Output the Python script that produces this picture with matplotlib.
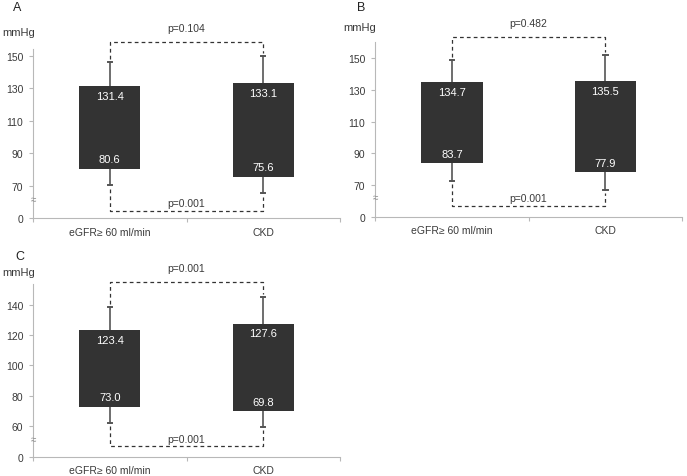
import matplotlib
matplotlib.use("Agg")
import matplotlib.pyplot as plt

plt.rcParams.update({
    "font.family": ["Liberation Sans", "DejaVu Sans"],
    "font.size": 7.5,
})

categories = ["eGFR\u2265 60 ml/min", "CKD"]

# panel data: box top/bottom, whisker ends, bracket levels, p-values
a_upper = [131.4, 133.1]
a_lower = [80.6, 75.6]
a_whi_hi = [146.0, 149.5]
a_whi_lo = [70.3, 65.3]
a_brackets = [158.5, 54.6]
a_pvals = ["p=0.104", "p=0.001"]
a_ticks = [50, 70, 90, 110, 130, 150]
a_ticklabels = ["0", "70", "90", "110", "130", "150"]

b_upper = [134.7, 135.5]
b_lower = [83.7, 77.9]
b_whi_hi = [149.0, 152.0]
b_whi_lo = [72.7, 67.0]
b_brackets = [163.6, 56.6]
b_pvals = ["p=0.482", "p=0.001"]
b_ticks = [50, 70, 90, 110, 130, 150]
b_ticklabels = ["0", "70", "90", "110", "130", "150"]

c_upper = [123.4, 127.6]
c_lower = [73.0, 69.8]
c_whi_hi = [138.7, 145.0]
c_whi_lo = [62.2, 59.7]
c_brackets = [155.1, 46.8]
c_pvals = ["p=0.001", "p=0.001"]
c_ticks = [40, 60, 80, 100, 120, 140]
c_ticklabels = ["0", "60", "80", "100", "120", "140"]

BOX = "#333333"
WHISK = "#555555"
SPINE = "#b8b8b8"
TXT = "#3a3a3a"


def draw_panel(ax, upper, lower, whi_hi, whi_lo, brackets, pvals,
               ticks, ticklabels, ylim, spine_top, brk, letter, letter_xy, unit_xy):
    xs = [0.5, 1.5]
    heights = [u - l for u, l in zip(upper, lower)]
    ax.bar(xs, heights, bottom=lower, width=0.4, color=BOX, zorder=3)
    for x, u, l, hi, lo in zip(xs, upper, lower, whi_hi, whi_lo):
        ax.plot([x, x], [u, hi], color=WHISK, lw=1.2, zorder=2)
        ax.plot([x, x], [l, lo], color=WHISK, lw=1.2, zorder=2)
        ax.plot([x - 0.014, x + 0.014], [hi, hi], color=WHISK, lw=1.4)
        ax.plot([x - 0.014, x + 0.014], [lo, lo], color=WHISK, lw=1.4)
        ax.annotate(f"{u:.1f}", (x, u), xytext=(0, -7), textcoords="offset points",
                    ha="center", va="center", color="white", fontsize=8, zorder=4)
        ax.annotate(f"{l:.1f}", (x, l), xytext=(0, 7), textcoords="offset points",
                    ha="center", va="center", color="white", fontsize=8, zorder=4)

    top, bot = brackets
    ls = dict(color="#333333", lw=0.9, ls=(0, (3, 2.5)), clip_on=False)
    ax.plot([xs[0], xs[0], xs[1], xs[1]],
            [whi_hi[0] + 2, top, top, whi_hi[1] + 2], **ls)
    ax.plot([xs[0], xs[0], xs[1], xs[1]],
            [whi_lo[0] - 2, bot, bot, whi_lo[1] - 2], **ls)
    ax.annotate(pvals[0], (1.0, top), xytext=(0, 6), textcoords="offset points",
                ha="center", va="bottom", color=TXT, fontsize=7.5)
    ax.annotate(pvals[1], (1.0, bot), xytext=(0, 2), textcoords="offset points",
                ha="center", va="bottom", color=TXT, fontsize=7.5)

    ax.set_xlim(0, 2)
    ax.set_ylim(*ylim)
    ax.set_xticks([0, 1, 2])
    ax.set_xticklabels([])
    ax.set_xticks(xs, minor=True)
    ax.set_xticklabels(categories, minor=True, color=TXT, fontsize=7.5)
    ax.tick_params(axis="x", which="major", length=3, color=SPINE)
    ax.tick_params(axis="x", which="minor", length=0, pad=6)
    ax.set_yticks(ticks)
    ax.set_yticklabels(ticklabels, color=TXT, fontsize=7.5)
    ax.tick_params(axis="y", length=3, color=SPINE, pad=4)

    for s in ["top", "right"]:
        ax.spines[s].set_visible(False)
    ax.spines["left"].set_color(SPINE)
    ax.spines["bottom"].set_color(SPINE)
    ax.spines["left"].set_bounds(ylim[0], spine_top)

    ax.text(0, brk, "\u2248", ha="center", va="center", color="#8a8a8a",
            fontsize=7, transform=ax.get_yaxis_transform(), clip_on=False)
    fig.text(letter_xy[0], letter_xy[1], letter, fontsize=9, color="#222222",
             ha="left", va="center")
    fig.text(unit_xy[0], unit_xy[1], "mmHg", fontsize=8, color=TXT,
             ha="left", va="center")


fig = plt.figure(figsize=(6.87, 4.77), dpi=100)
ax_a = fig.add_axes([0.048, 0.540, 0.447, 0.3927])
ax_b = fig.add_axes([0.546, 0.5436, 0.4469, 0.382])
ax_c = fig.add_axes([0.048, 0.0405, 0.447, 0.376])

draw_panel(ax_a, a_upper, a_lower, a_whi_hi, a_whi_lo, a_brackets, a_pvals,
           a_ticks, a_ticklabels, (50, 165), 154, 62,
           "A", (0.019, 0.983), (0.004, 0.931))
draw_panel(ax_b, b_upper, b_lower, b_whi_hi, b_whi_lo, b_brackets, b_pvals,
           b_ticks, b_ticklabels, (50, 165), 160, 62,
           "B", (0.52, 0.983), (0.500, 0.941))
draw_panel(ax_c, c_upper, c_lower, c_whi_hi, c_whi_lo, c_brackets, c_pvals,
           c_ticks, c_ticklabels, (40, 158), 153.6, 51.6,
           "C", (0.022, 0.461), (0.004, 0.427))

fig.savefig("out.png", dpi=100)
